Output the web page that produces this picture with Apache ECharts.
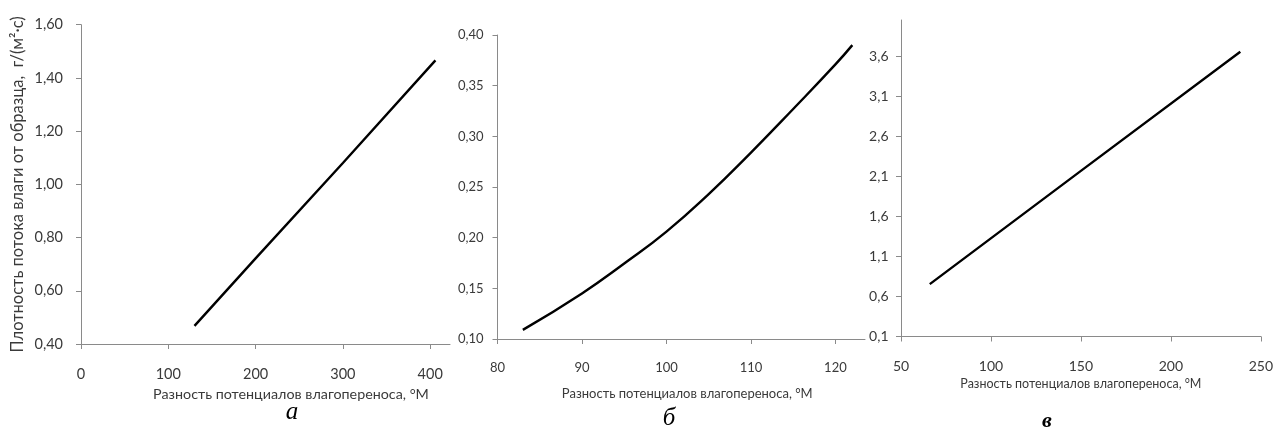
<!DOCTYPE html>
<html>
<head>
<meta charset="utf-8">
<script src="https://cdn.jsdelivr.net/npm/echarts@6.0.0/dist/echarts.min.js"></script>
<style>
html,body{margin:0;padding:0;background:#fff;}
#chart{width:1276px;height:432px;}
</style>
</head>
<body>
<div id="chart"></div>
<script>
// ---- data ----
const seriesA = [[130, 0.468], [200, 0.722], [300, 1.08], [406, 1.466]];
const seriesB = [[83, 0.109], [90, 0.145], [95, 0.1745], [100, 0.206], [105, 0.243], [110, 0.284], [115, 0.327], [120, 0.371], [122, 0.390]];
const seriesC = [[66, 0.755], [150, 2.17], [238.6, 3.66]];
const xTicksA = [0, 100, 200, 300, 400];
const xTicksB = [80, 90, 100, 110, 120];
const xTicksC = [50, 100, 150, 200, 250];
const yTicksC = [0.1, 0.6, 1.1, 1.6, 2.1, 2.6, 3.1, 3.6];
const xTitle = 'Разность потенциалов влагопереноса, °М';
const yTitleA = 'Плотность потока влаги от образца,  г/(м²·с)';
const captions = ['а', 'б', 'в'];

const FONT = 'Lato';
const TXT = '#3a3a3a';
const AX = '#8a8a8a';

function comma(d) { return v => Number(v).toFixed(d).replace('.', ','); }

function xAxis(idx, min, max, ticks, fs, margin, gap, nfs, shift) {
  return {
    type: 'value', gridIndex: idx, min: min, max: max,
    splitLine: {show: false},
    axisLine: {show: true, onZero: false, lineStyle: {color: AX, width: 1}},
    axisTick: {show: true, customValues: ticks, length: 5, lineStyle: {color: AX}},
    axisLabel: {customValues: ticks, color: TXT, fontFamily: FONT, fontSize: fs, margin: margin},
    name: xTitle, nameLocation: 'middle', nameGap: gap,
    nameTextStyle: {color: TXT, fontFamily: FONT, fontSize: nfs, padding: [0, 0, 0, shift]}
  };
}
function yAxis(idx, opts, fs, margin, dec) {
  return Object.assign({
    type: 'value', gridIndex: idx,
    splitLine: {show: false},
    axisLine: {show: true, onZero: false, lineStyle: {color: AX, width: 1}},
    axisTick: {show: true, length: 5, lineStyle: {color: AX}},
    axisLabel: {color: TXT, fontFamily: FONT, fontSize: fs, margin: margin, formatter: comma(dec)}
  }, opts);
}

const chart = echarts.init(document.getElementById('chart'), null, {renderer: 'canvas'});
const lineStyle = {color: '#000', width: 2.4};
chart.setOption({
  animation: false,
  backgroundColor: '#fff',
  grid: [
    {left: 81, top: 24.7, width: 369, height: 319.3},
    {left: 497.5, top: 35, width: 367.5, height: 304},
    {left: 901, top: 20, width: 365.7, height: 316.5}
  ],
  xAxis: [
    xAxis(0, 0, 422.7, xTicksA, 14.5, 23, 42, 14.3, 51),
    xAxis(1, 80, 123.5, xTicksB, 13, 22, 48.5, 13, 12),
    xAxis(2, 50, 250, xTicksC, 14, 22.5, 41, 12.5, 0)
  ],
  yAxis: [
    yAxis(0, {min: 0.4, max: 1.6, interval: 0.2,
      name: yTitleA, nameLocation: 'middle', nameGap: 55,
      nameTextStyle: {color: TXT, fontFamily: FONT, fontSize: 16.5}}, 14.5, 18, 2),
    yAxis(1, {min: 0.1, max: 0.4, interval: 0.05}, 13, 14, 2),
    yAxis(2, {min: 0.1, max: 4.056,
      axisTick: {show: true, customValues: yTicksC, length: 5, lineStyle: {color: AX}},
      axisLabel: {customValues: yTicksC, color: TXT, fontFamily: FONT, fontSize: 14, margin: 12.5, formatter: comma(1)}}, 14, 12.5, 1)
  ],
  series: [
    {type: 'line', xAxisIndex: 0, yAxisIndex: 0, data: seriesA, showSymbol: false, lineStyle: lineStyle},
    {type: 'line', xAxisIndex: 1, yAxisIndex: 1, data: seriesB, smooth: true, showSymbol: false, lineStyle: lineStyle},
    {type: 'line', xAxisIndex: 2, yAxisIndex: 2, data: seriesC, showSymbol: false, lineStyle: lineStyle}
  ],
  graphic: [
    {type: 'text', x: 292, y: 412, style: {text: captions[0], textAlign: 'center', textVerticalAlign: 'middle', font: 'italic 25px "Liberation Serif"', fill: '#000'}},
    {type: 'text', x: 669, y: 418, style: {text: captions[1], textAlign: 'center', textVerticalAlign: 'middle', font: 'italic 25px "Liberation Serif"', fill: '#000'}},
    {type: 'text', x: 1047, y: 421, style: {text: captions[2], textAlign: 'center', textVerticalAlign: 'middle', font: 'italic bold 22px "Liberation Serif"', fill: '#000'}}
  ]
});
</script>
</body>
</html>
